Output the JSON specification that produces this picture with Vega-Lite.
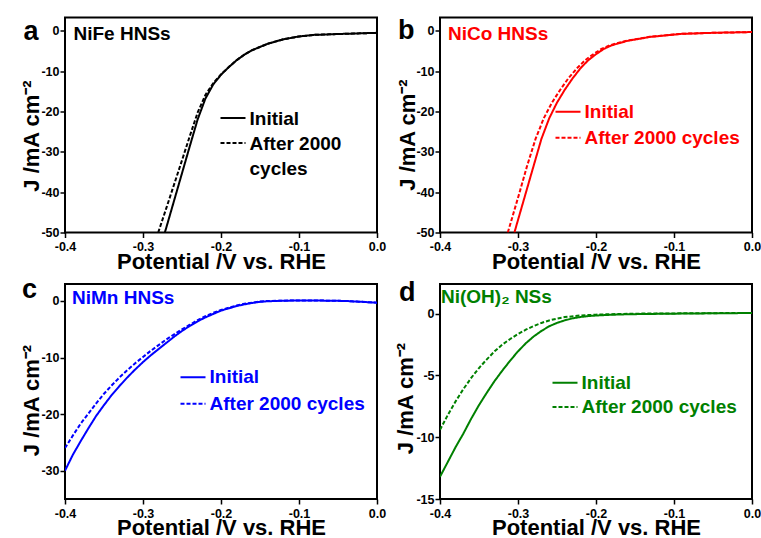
{
  "$schema": "https://vega.github.io/schema/vega-lite/v6.json",
  "background": "white",
  "padding": {"left": 19, "top": 15.5, "right": 0, "bottom": 0},
  "columns": 2,
  "bounds": "flush",
  "spacing": {"row": 51.5, "column": 63},
  "resolve": {"scale": {"strokeDash": "independent"}, "legend": {"strokeDash": "independent"}},
  "config": {
    "font": "Liberation Sans",
    "view": {"stroke": "black", "strokeWidth": 2},
    "axis": {
      "domain": false,
      "grid": false,
      "tickColor": "black",
      "tickWidth": 1.5,
      "labelFont": "Liberation Sans",
      "labelFontWeight": "bold",
      "labelFontSize": 12.5,
      "labelColor": "black",
      "labelOverlap": false,
      "labelFlush": false,
      "titleFont": "Liberation Sans",
      "titleFontWeight": "bold",
      "titleFontSize": 22,
      "titleColor": "black"
    },
    "legend": {
      "orient": "none",
      "title": null,
      "symbolType": "stroke",
      "symbolSize": 625,
      "symbolStrokeWidth": 2,
      "labelFont": "Liberation Sans",
      "labelFontWeight": "bold",
      "labelFontSize": 19,
      "labelOffset": 3,
      "labelLimit": 400,
      "rowPadding": 2,
      "padding": 0
    }
  },
  "datasets": {
    "nife": [
      {"V": 0, "J": -0.5, "curve": "Initial"}, {"V": -0.05, "J": -0.8, "curve": "Initial"}, {"V": -0.08, "J": -1.0, "curve": "Initial"}, {"V": -0.1, "J": -1.4, "curve": "Initial"}, {"V": -0.12, "J": -2.1, "curve": "Initial"}, {"V": -0.14, "J": -3.2, "curve": "Initial"}, {"V": -0.16, "J": -4.8, "curve": "Initial"}, {"V": -0.17, "J": -5.9, "curve": "Initial"}, {"V": -0.18, "J": -7.3, "curve": "Initial"}, {"V": -0.19, "J": -9.0, "curve": "Initial"}, {"V": -0.2, "J": -10.9, "curve": "Initial"}, {"V": -0.21, "J": -13.3, "curve": "Initial"}, {"V": -0.22, "J": -16.8, "curve": "Initial"}, {"V": -0.23, "J": -22.0, "curve": "Initial"}, {"V": -0.24, "J": -28.6, "curve": "Initial"}, {"V": -0.25, "J": -35.3, "curve": "Initial"}, {"V": -0.26, "J": -42.0, "curve": "Initial"}, {"V": -0.27, "J": -48.7, "curve": "Initial"}, {"V": -0.272, "J": -50, "curve": "Initial"},
      {"V": 0, "J": -0.5, "curve": "After 2000 cycles"}, {"V": -0.05, "J": -0.8, "curve": "After 2000 cycles"}, {"V": -0.08, "J": -1.0, "curve": "After 2000 cycles"}, {"V": -0.1, "J": -1.4, "curve": "After 2000 cycles"}, {"V": -0.12, "J": -2.1, "curve": "After 2000 cycles"}, {"V": -0.14, "J": -3.2, "curve": "After 2000 cycles"}, {"V": -0.16, "J": -4.8, "curve": "After 2000 cycles"}, {"V": -0.17, "J": -5.9, "curve": "After 2000 cycles"}, {"V": -0.18, "J": -7.3, "curve": "After 2000 cycles"}, {"V": -0.19, "J": -9.0, "curve": "After 2000 cycles"}, {"V": -0.2, "J": -10.8, "curve": "After 2000 cycles"}, {"V": -0.21, "J": -13.0, "curve": "After 2000 cycles"}, {"V": -0.22, "J": -15.9, "curve": "After 2000 cycles"}, {"V": -0.23, "J": -20.3, "curve": "After 2000 cycles"}, {"V": -0.24, "J": -26.1, "curve": "After 2000 cycles"}, {"V": -0.25, "J": -32.1, "curve": "After 2000 cycles"}, {"V": -0.26, "J": -38.0, "curve": "After 2000 cycles"}, {"V": -0.27, "J": -43.9, "curve": "After 2000 cycles"}, {"V": -0.28, "J": -49.7, "curve": "After 2000 cycles"}, {"V": -0.2806, "J": -50, "curve": "After 2000 cycles"}
    ],
    "nico": [
      {"V": 0, "J": -0.3, "curve": "Initial"}, {"V": -0.05, "J": -0.5, "curve": "Initial"}, {"V": -0.09, "J": -0.75, "curve": "Initial"}, {"V": -0.13, "J": -1.5, "curve": "Initial"}, {"V": -0.16, "J": -2.5, "curve": "Initial"}, {"V": -0.18, "J": -3.6, "curve": "Initial"}, {"V": -0.19, "J": -4.5, "curve": "Initial"}, {"V": -0.2, "J": -5.8, "curve": "Initial"}, {"V": -0.21, "J": -7.3, "curve": "Initial"}, {"V": -0.22, "J": -9.3, "curve": "Initial"}, {"V": -0.23, "J": -11.8, "curve": "Initial"}, {"V": -0.24, "J": -14.6, "curve": "Initial"}, {"V": -0.25, "J": -17.8, "curve": "Initial"}, {"V": -0.26, "J": -21.7, "curve": "Initial"}, {"V": -0.27, "J": -26.8, "curve": "Initial"}, {"V": -0.28, "J": -33.5, "curve": "Initial"}, {"V": -0.29, "J": -40.2, "curve": "Initial"}, {"V": -0.3, "J": -46.9, "curve": "Initial"}, {"V": -0.3046, "J": -50, "curve": "Initial"},
      {"V": 0, "J": -0.3, "curve": "After 2000 cycles"}, {"V": -0.05, "J": -0.5, "curve": "After 2000 cycles"}, {"V": -0.091, "J": -0.75, "curve": "After 2000 cycles"}, {"V": -0.1315, "J": -1.5, "curve": "After 2000 cycles"}, {"V": -0.162, "J": -2.5, "curve": "After 2000 cycles"}, {"V": -0.1825, "J": -3.6, "curve": "After 2000 cycles"}, {"V": -0.193, "J": -4.5, "curve": "After 2000 cycles"}, {"V": -0.2035, "J": -5.8, "curve": "After 2000 cycles"}, {"V": -0.214, "J": -7.3, "curve": "After 2000 cycles"}, {"V": -0.2245, "J": -9.3, "curve": "After 2000 cycles"}, {"V": -0.2355, "J": -11.8, "curve": "After 2000 cycles"}, {"V": -0.2458, "J": -14.6, "curve": "After 2000 cycles"}, {"V": -0.2565, "J": -17.8, "curve": "After 2000 cycles"}, {"V": -0.267, "J": -21.7, "curve": "After 2000 cycles"}, {"V": -0.2775, "J": -26.8, "curve": "After 2000 cycles"}, {"V": -0.2885, "J": -33.6, "curve": "After 2000 cycles"}, {"V": -0.2985, "J": -40.4, "curve": "After 2000 cycles"}, {"V": -0.3085, "J": -47.0, "curve": "After 2000 cycles"}, {"V": -0.3131, "J": -50, "curve": "After 2000 cycles"}
    ],
    "nimn": [
      {"V": -0.4, "J": -30.0, "curve": "Initial"}, {"V": -0.39, "J": -27.2, "curve": "Initial"}, {"V": -0.38, "J": -24.8, "curve": "Initial"}, {"V": -0.37, "J": -22.5, "curve": "Initial"}, {"V": -0.36, "J": -20.3, "curve": "Initial"}, {"V": -0.35, "J": -18.4, "curve": "Initial"}, {"V": -0.34, "J": -16.6, "curve": "Initial"}, {"V": -0.33, "J": -15.0, "curve": "Initial"}, {"V": -0.32, "J": -13.5, "curve": "Initial"}, {"V": -0.31, "J": -12.1, "curve": "Initial"}, {"V": -0.3, "J": -10.8, "curve": "Initial"}, {"V": -0.29, "J": -9.6, "curve": "Initial"}, {"V": -0.28, "J": -8.5, "curve": "Initial"}, {"V": -0.27, "J": -7.4, "curve": "Initial"}, {"V": -0.26, "J": -6.3, "curve": "Initial"}, {"V": -0.25, "J": -5.3, "curve": "Initial"}, {"V": -0.24, "J": -4.4, "curve": "Initial"}, {"V": -0.23, "J": -3.6, "curve": "Initial"}, {"V": -0.22, "J": -2.9, "curve": "Initial"}, {"V": -0.21, "J": -2.3, "curve": "Initial"}, {"V": -0.2, "J": -1.7, "curve": "Initial"}, {"V": -0.19, "J": -1.3, "curve": "Initial"}, {"V": -0.18, "J": -0.9, "curve": "Initial"}, {"V": -0.17, "J": -0.6, "curve": "Initial"}, {"V": -0.16, "J": -0.35, "curve": "Initial"}, {"V": -0.15, "J": -0.15, "curve": "Initial"}, {"V": -0.14, "J": -0.05, "curve": "Initial"}, {"V": -0.12, "J": 0.05, "curve": "Initial"}, {"V": -0.1, "J": 0.08, "curve": "Initial"}, {"V": -0.08, "J": 0.08, "curve": "Initial"}, {"V": -0.06, "J": 0.05, "curve": "Initial"}, {"V": -0.04, "J": 0.0, "curve": "Initial"}, {"V": -0.02, "J": -0.15, "curve": "Initial"}, {"V": 0, "J": -0.3, "curve": "Initial"},
      {"V": -0.4, "J": -26.0, "curve": "After 2000 cycles"}, {"V": -0.39, "J": -23.8, "curve": "After 2000 cycles"}, {"V": -0.38, "J": -21.7, "curve": "After 2000 cycles"}, {"V": -0.37, "J": -19.9, "curve": "After 2000 cycles"}, {"V": -0.36, "J": -18.1, "curve": "After 2000 cycles"}, {"V": -0.35, "J": -16.4, "curve": "After 2000 cycles"}, {"V": -0.34, "J": -14.9, "curve": "After 2000 cycles"}, {"V": -0.33, "J": -13.5, "curve": "After 2000 cycles"}, {"V": -0.32, "J": -12.2, "curve": "After 2000 cycles"}, {"V": -0.31, "J": -11.0, "curve": "After 2000 cycles"}, {"V": -0.3, "J": -9.9, "curve": "After 2000 cycles"}, {"V": -0.29, "J": -8.8, "curve": "After 2000 cycles"}, {"V": -0.28, "J": -7.8, "curve": "After 2000 cycles"}, {"V": -0.27, "J": -6.8, "curve": "After 2000 cycles"}, {"V": -0.26, "J": -5.9, "curve": "After 2000 cycles"}, {"V": -0.25, "J": -5.0, "curve": "After 2000 cycles"}, {"V": -0.24, "J": -4.2, "curve": "After 2000 cycles"}, {"V": -0.23, "J": -3.4, "curve": "After 2000 cycles"}, {"V": -0.22, "J": -2.7, "curve": "After 2000 cycles"}, {"V": -0.21, "J": -2.1, "curve": "After 2000 cycles"}, {"V": -0.2, "J": -1.6, "curve": "After 2000 cycles"}, {"V": -0.19, "J": -1.2, "curve": "After 2000 cycles"}, {"V": -0.18, "J": -0.8, "curve": "After 2000 cycles"}, {"V": -0.17, "J": -0.5, "curve": "After 2000 cycles"}, {"V": -0.16, "J": -0.3, "curve": "After 2000 cycles"}, {"V": -0.15, "J": -0.1, "curve": "After 2000 cycles"}, {"V": -0.14, "J": 0.0, "curve": "After 2000 cycles"}, {"V": -0.12, "J": 0.06, "curve": "After 2000 cycles"}, {"V": -0.1, "J": 0.08, "curve": "After 2000 cycles"}, {"V": -0.08, "J": 0.08, "curve": "After 2000 cycles"}, {"V": -0.06, "J": 0.05, "curve": "After 2000 cycles"}, {"V": -0.04, "J": 0.0, "curve": "After 2000 cycles"}, {"V": -0.02, "J": -0.15, "curve": "After 2000 cycles"}, {"V": 0, "J": -0.3, "curve": "After 2000 cycles"}
    ],
    "nioh": [
      {"V": -0.4, "J": -13.2, "curve": "Initial"}, {"V": -0.39, "J": -12.0, "curve": "Initial"}, {"V": -0.38, "J": -10.8, "curve": "Initial"}, {"V": -0.37, "J": -9.7, "curve": "Initial"}, {"V": -0.36, "J": -8.5, "curve": "Initial"}, {"V": -0.35, "J": -7.4, "curve": "Initial"}, {"V": -0.34, "J": -6.4, "curve": "Initial"}, {"V": -0.33, "J": -5.45, "curve": "Initial"}, {"V": -0.32, "J": -4.6, "curve": "Initial"}, {"V": -0.31, "J": -3.8, "curve": "Initial"}, {"V": -0.3, "J": -3.05, "curve": "Initial"}, {"V": -0.29, "J": -2.4, "curve": "Initial"}, {"V": -0.28, "J": -1.85, "curve": "Initial"}, {"V": -0.27, "J": -1.4, "curve": "Initial"}, {"V": -0.26, "J": -1.02, "curve": "Initial"}, {"V": -0.25, "J": -0.75, "curve": "Initial"}, {"V": -0.24, "J": -0.54, "curve": "Initial"}, {"V": -0.23, "J": -0.38, "curve": "Initial"}, {"V": -0.22, "J": -0.27, "curve": "Initial"}, {"V": -0.21, "J": -0.2, "curve": "Initial"}, {"V": -0.2, "J": -0.15, "curve": "Initial"}, {"V": -0.18, "J": -0.09, "curve": "Initial"}, {"V": -0.16, "J": -0.05, "curve": "Initial"}, {"V": -0.14, "J": -0.03, "curve": "Initial"}, {"V": -0.1, "J": 0.0, "curve": "Initial"}, {"V": -0.05, "J": 0.03, "curve": "Initial"}, {"V": 0, "J": 0.05, "curve": "Initial"},
      {"V": -0.4, "J": -9.4, "curve": "After 2000 cycles"}, {"V": -0.39, "J": -8.2, "curve": "After 2000 cycles"}, {"V": -0.38, "J": -7.1, "curve": "After 2000 cycles"}, {"V": -0.37, "J": -6.1, "curve": "After 2000 cycles"}, {"V": -0.36, "J": -5.2, "curve": "After 2000 cycles"}, {"V": -0.35, "J": -4.4, "curve": "After 2000 cycles"}, {"V": -0.34, "J": -3.7, "curve": "After 2000 cycles"}, {"V": -0.33, "J": -3.05, "curve": "After 2000 cycles"}, {"V": -0.32, "J": -2.5, "curve": "After 2000 cycles"}, {"V": -0.31, "J": -2.05, "curve": "After 2000 cycles"}, {"V": -0.3, "J": -1.65, "curve": "After 2000 cycles"}, {"V": -0.29, "J": -1.3, "curve": "After 2000 cycles"}, {"V": -0.28, "J": -1.0, "curve": "After 2000 cycles"}, {"V": -0.27, "J": -0.75, "curve": "After 2000 cycles"}, {"V": -0.26, "J": -0.55, "curve": "After 2000 cycles"}, {"V": -0.25, "J": -0.4, "curve": "After 2000 cycles"}, {"V": -0.24, "J": -0.28, "curve": "After 2000 cycles"}, {"V": -0.22, "J": -0.15, "curve": "After 2000 cycles"}, {"V": -0.2, "J": -0.08, "curve": "After 2000 cycles"}, {"V": -0.18, "J": -0.04, "curve": "After 2000 cycles"}, {"V": -0.15, "J": 0.0, "curve": "After 2000 cycles"}, {"V": -0.1, "J": 0.02, "curve": "After 2000 cycles"}, {"V": -0.05, "J": 0.04, "curve": "After 2000 cycles"}, {"V": 0, "J": 0.06, "curve": "After 2000 cycles"}
    ]
  },
  "concat": [
    {
      "width": 312, "height": 215,
      "layer": [
        {
          "data": {"name": "nife"},
          "mark": {"type": "line", "color": "#000000", "strokeWidth": 2, "clip": true},
          "encoding": {
            "x": {"field": "V", "type": "quantitative", "scale": {"domain": [-0.4, 0], "nice": false, "zero": false},
              "axis": {"title": "Potential /V vs. RHE", "titleY": 36, "titleBaseline": "alphabetic", "labelPadding": 3,
                "values": [-0.4, -0.35, -0.3, -0.25, -0.2, -0.15, -0.1, -0.05, 0],
                "labelExpr": "abs(datum.value*10 - round(datum.value*10)) < 0.01 ? (datum.value < -0.001 ? '-' + format(-datum.value, '.1f') : '0.0') : ''",
                "tickSize": {"condition": {"test": "abs(datum.value*10 - round(datum.value*10)) < 0.01", "value": 5}, "value": 3}}},
            "y": {"field": "J", "type": "quantitative", "scale": {"domain": [-50, 3.3], "nice": false, "zero": false},
              "axis": {"title": "J /mA cm⁻²", "titleX": -26.5, "titleY": 118, "titleAlign": "center", "titleBaseline": "alphabetic", "labelPadding": 1,
                "values": [-50, -45, -40, -35, -30, -25, -20, -15, -10, -5, 0],
                "labelExpr": "abs(datum.value % 10) < 0.001 ? (datum.value < 0 ? '-' + (-datum.value) : '0') : ''",
                "tickSize": {"condition": {"test": "abs(datum.value % 10) < 0.001", "value": 5}, "value": 3}}},
            "strokeDash": {"field": "curve", "type": "nominal",
              "scale": {"domain": ["Initial", "After 2000 cycles"], "range": [[1, 0], [4, 2]]},
              "legend": {"legendX": 154.5, "legendY": 87, "rowPadding": -1, "labelColor": "#000000", "symbolStrokeColor": "#000000",
                "labelExpr": "datum.label == 'After 2000 cycles' ? ['After 2000', 'cycles'] : datum.label",
                "labelBaseline": "alphabetic",
                "encode": {"labels": {"update": {"dy": {"value": 7}, "lineHeight": {"value": 25}}}}}}
          }
        },
        {
          "data": {"values": [{"t": "NiFe HNSs"}]},
          "mark": {"type": "text", "align": "left", "baseline": "alphabetic", "dx": 8.5, "dy": 22.5, "fontSize": 19, "fontWeight": "bold", "color": "#000000"},
          "encoding": {"x": {"datum": -0.4}, "y": {"datum": 3.3}, "text": {"field": "t"}}
        },
        {
          "data": {"values": [{"t": "a"}]},
          "mark": {"type": "text", "align": "left", "baseline": "alphabetic", "dx": -41.5, "dy": 22, "fontSize": 27, "fontWeight": "bold", "color": "#000000"},
          "encoding": {"x": {"datum": -0.4}, "y": {"datum": 3.3}, "text": {"field": "t"}}
        }
      ]
    },
    {
      "width": 312, "height": 215,
      "layer": [
        {
          "data": {"name": "nico"},
          "mark": {"type": "line", "color": "#ff0000", "strokeWidth": 2, "clip": true},
          "encoding": {
            "x": {"field": "V", "type": "quantitative", "scale": {"domain": [-0.4, 0], "nice": false, "zero": false},
              "axis": {"title": "Potential /V vs. RHE", "titleY": 36, "titleBaseline": "alphabetic", "labelPadding": 3,
                "values": [-0.4, -0.35, -0.3, -0.25, -0.2, -0.15, -0.1, -0.05, 0],
                "labelExpr": "abs(datum.value*10 - round(datum.value*10)) < 0.01 ? (datum.value < -0.001 ? '-' + format(-datum.value, '.1f') : '0.0') : ''",
                "tickSize": {"condition": {"test": "abs(datum.value*10 - round(datum.value*10)) < 0.01", "value": 5}, "value": 3}}},
            "y": {"field": "J", "type": "quantitative", "scale": {"domain": [-50, 3.3], "nice": false, "zero": false},
              "axis": {"title": "J /mA cm⁻²", "titleX": -25.5, "titleY": 117, "titleAlign": "center", "titleBaseline": "alphabetic", "labelPadding": 1,
                "values": [-50, -45, -40, -35, -30, -25, -20, -15, -10, -5, 0],
                "labelExpr": "abs(datum.value % 10) < 0.001 ? (datum.value < 0 ? '-' + (-datum.value) : '0') : ''",
                "tickSize": {"condition": {"test": "abs(datum.value % 10) < 0.001", "value": 5}, "value": 3}}},
            "strokeDash": {"field": "curve", "type": "nominal",
              "scale": {"domain": ["Initial", "After 2000 cycles"], "range": [[1, 0], [4, 2]]},
              "legend": {"legendX": 114.5, "legendY": 80.7, "rowPadding": 2, "labelColor": "#ff0000", "symbolStrokeColor": "#ff0000"}}
          }
        },
        {
          "data": {"values": [{"t": "NiCo HNSs"}]},
          "mark": {"type": "text", "align": "left", "baseline": "alphabetic", "dx": 8, "dy": 22.5, "fontSize": 19, "fontWeight": "bold", "color": "#ff0000"},
          "encoding": {"x": {"datum": -0.4}, "y": {"datum": 3.3}, "text": {"field": "t"}}
        },
        {
          "data": {"values": [{"t": "b"}]},
          "mark": {"type": "text", "align": "left", "baseline": "alphabetic", "dx": -42, "dy": 21.5, "fontSize": 27, "fontWeight": "bold", "color": "#000000"},
          "encoding": {"x": {"datum": -0.4}, "y": {"datum": 3.3}, "text": {"field": "t"}}
        }
      ]
    },
    {
      "width": 312, "height": 215,
      "layer": [
        {
          "data": {"name": "nimn"},
          "mark": {"type": "line", "color": "#0000ff", "strokeWidth": 2, "clip": true},
          "encoding": {
            "x": {"field": "V", "type": "quantitative", "scale": {"domain": [-0.4, 0], "nice": false, "zero": false},
              "axis": {"title": "Potential /V vs. RHE", "titleY": 35.5, "titleBaseline": "alphabetic", "labelPadding": 3,
                "values": [-0.4, -0.35, -0.3, -0.25, -0.2, -0.15, -0.1, -0.05, 0],
                "labelExpr": "abs(datum.value*10 - round(datum.value*10)) < 0.01 ? (datum.value < -0.001 ? '-' + format(-datum.value, '.1f') : '0.0') : ''",
                "tickSize": {"condition": {"test": "abs(datum.value*10 - round(datum.value*10)) < 0.01", "value": 5}, "value": 3}}},
            "y": {"field": "J", "type": "quantitative", "scale": {"domain": [-35, 3], "nice": false, "zero": false},
              "axis": {"title": "J /mA cm⁻²", "titleX": -26.5, "titleY": 116, "titleAlign": "center", "titleBaseline": "alphabetic", "labelPadding": 1,
                "values": [-30, -25, -20, -15, -10, -5, 0],
                "labelExpr": "abs(datum.value % 10) < 0.001 ? (datum.value < 0 ? '-' + (-datum.value) : '0') : ''",
                "tickSize": {"condition": {"test": "abs(datum.value % 10) < 0.001", "value": 5}, "value": 3}}},
            "strokeDash": {"field": "curve", "type": "nominal",
              "scale": {"domain": ["Initial", "After 2000 cycles"], "range": [[1, 0], [4, 2]]},
              "legend": {"legendX": 114.5, "legendY": 79.8, "rowPadding": 2.4, "labelColor": "#0000ff", "symbolStrokeColor": "#0000ff"}}
          }
        },
        {
          "data": {"values": [{"t": "NiMn HNSs"}]},
          "mark": {"type": "text", "align": "left", "baseline": "alphabetic", "dx": 7, "dy": 20, "fontSize": 19, "fontWeight": "bold", "color": "#0000ff"},
          "encoding": {"x": {"datum": -0.4}, "y": {"datum": 3}, "text": {"field": "t"}}
        },
        {
          "data": {"values": [{"t": "c"}]},
          "mark": {"type": "text", "align": "left", "baseline": "alphabetic", "dx": -43, "dy": 13.5, "fontSize": 27, "fontWeight": "bold", "color": "#000000"},
          "encoding": {"x": {"datum": -0.4}, "y": {"datum": 3}, "text": {"field": "t"}}
        }
      ]
    },
    {
      "width": 312, "height": 215,
      "layer": [
        {
          "data": {"name": "nioh"},
          "mark": {"type": "line", "color": "#008000", "strokeWidth": 2, "clip": true},
          "encoding": {
            "x": {"field": "V", "type": "quantitative", "scale": {"domain": [-0.4, 0], "nice": false, "zero": false},
              "axis": {"title": "Potential /V vs. RHE", "titleY": 35.5, "titleBaseline": "alphabetic", "labelPadding": 3,
                "values": [-0.4, -0.35, -0.3, -0.25, -0.2, -0.15, -0.1, -0.05, 0],
                "labelExpr": "abs(datum.value*10 - round(datum.value*10)) < 0.01 ? (datum.value < -0.001 ? '-' + format(-datum.value, '.1f') : '0.0') : ''",
                "tickSize": {"condition": {"test": "abs(datum.value*10 - round(datum.value*10)) < 0.01", "value": 5}, "value": 3}}},
            "y": {"field": "J", "type": "quantitative", "scale": {"domain": [-15, 2.4], "nice": false, "zero": false},
              "axis": {"title": "J /mA cm⁻²", "titleX": -28, "titleY": 114, "titleAlign": "center", "titleBaseline": "alphabetic", "labelPadding": 1,
                "values": [-15, -12.5, -10, -7.5, -5, -2.5, 0],
                "labelExpr": "abs(datum.value % 5) < 0.001 ? (datum.value < 0 ? '-' + (-datum.value) : '0') : ''",
                "tickSize": {"condition": {"test": "abs(datum.value % 5) < 0.001", "value": 5}, "value": 3}}},
            "strokeDash": {"field": "curve", "type": "nominal",
              "scale": {"domain": ["Initial", "After 2000 cycles"], "range": [[1, 0], [4, 2]]},
              "legend": {"legendX": 111.5, "legendY": 85.2, "rowPadding": 0.3, "labelColor": "#008000", "symbolStrokeColor": "#008000"}}
          }
        },
        {
          "data": {"values": [{"t": "Ni(OH)₂ NSs"}]},
          "mark": {"type": "text", "align": "left", "baseline": "alphabetic", "dx": 1, "dy": 18.5, "fontSize": 19, "fontWeight": "bold", "color": "#008000"},
          "encoding": {"x": {"datum": -0.4}, "y": {"datum": 2.4}, "text": {"field": "t"}}
        },
        {
          "data": {"values": [{"t": "d"}]},
          "mark": {"type": "text", "align": "left", "baseline": "alphabetic", "dx": -41, "dy": 16.5, "fontSize": 27, "fontWeight": "bold", "color": "#000000"},
          "encoding": {"x": {"datum": -0.4}, "y": {"datum": 2.4}, "text": {"field": "t"}}
        }
      ]
    }
  ]
}
